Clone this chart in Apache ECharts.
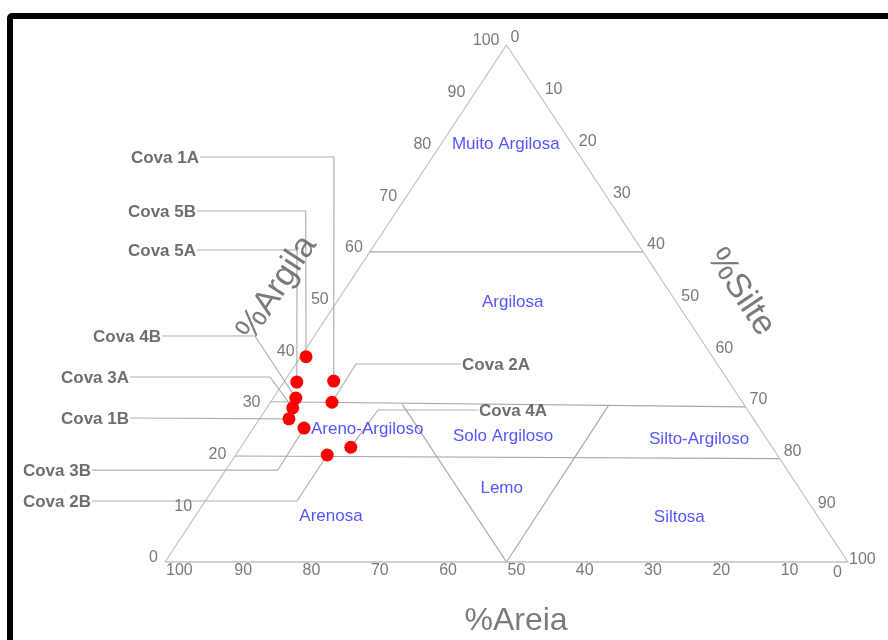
<!DOCTYPE html>
<html><head><meta charset="utf-8">
<script src="https://cdn.jsdelivr.net/npm/echarts@6/dist/echarts.min.js"></script>
<style>html,body{margin:0;padding:0;background:#fff}#c{width:888px;height:640px}</style>
</head><body><div id="c"></div>
<script>
// ---- data (percentages: sand / silt / clay) ----
const samples = ['Cova 1A','Cova 5B','Cova 5A','Cova 4B','Cova 2A','Cova 3A','Cova 1B','Cova 3B','Cova 4A','Cova 2B'];
const areia  = [57.8, 59.5, 63.3, 65.0, 60.1, 66.4, 68.0, 66.7, 61.7, 65.9];
const silte  = [ 7.2,  0.8,  1.9,  3.3,  9.0,  3.8,  4.3,  7.4, 16.1, 13.4];
const argila = [35.0, 39.7, 34.8, 31.7, 30.9, 29.8, 27.7, 25.9, 22.2, 20.7];
const tickValues = [0,10,20,30,40,50,60,70,80,90,100];
const classNames = ['Muito Argilosa','Argilosa','Areno-Argiloso','Solo Argiloso','Silto-Argiloso','Lemo','Arenosa','Siltosa'];
// class boundaries as [sand, silt, clay] end points
const boundaries = [
  [[40,0,60],[0,40,60]],
  [[69,0,31],[0,70,30]],
  [[79.5,0,20.5],[0,80,20]],
  [[50,19.5,30.5],[50,50,0]],
  [[20,49.8,30.2],[50,50,0]]
];

// ---- layout (plot units: x = silt + clay/2, y = clay) ----
const classLabelPos = [[49.9,80.7],[50.9,50.3],[29.6,25.7],[49.5,24.4],[78.2,23.8],[49.3,14.3],[24.3,8.9],[75.3,8.7]];
// leader: label anchor, elbow
const leaderLayout = {
  'Cova 1A': {side:'left',  start:[5.12,78.34],  elbow:[24.74,78.34]},
  'Cova 5B': {side:'left',  start:[4.69,67.89],  elbow:[20.6,67.89]},
  'Cova 5A': {side:'left',  start:[4.69,60.35],  elbow:[19.33,60.35]},
  'Cova 4B': {side:'left',  start:[-0.44,43.71], elbow:[13.18,43.71]},
  'Cova 2A': {side:'right', start:[43.34,38.3],  elbow:[27.96,38.3]},
  'Cova 3A': {side:'left',  start:[-5.12,35.78], elbow:[15.37,35.78]},
  'Cova 1B': {side:'left',  start:[-5.12,27.85], elbow:null},
  'Cova 3B': {side:'left',  start:[-10.69,17.79],elbow:[16.54,17.79]},
  'Cova 4A': {side:'right', start:[45.83,29.4],  elbow:[31.19,29.4]},
  'Cova 2B': {side:'left',  start:[-10.69,11.8], elbow:[19.33,11.8]}
};

const FONT = "'Liberation Sans', Arial, sans-serif";
const toXY = (sand, silt, clay) => [silt + clay / 2, clay];

const series = [];
// triangle
series.push({type:'line', data:[toXY(100,0,0), toXY(0,100,0), toXY(0,0,100), toXY(100,0,0)],
  symbol:'none', clip:false, silent:true, lineStyle:{color:'#c2c2c2', width:1.3}, z:1});
// boundaries
boundaries.forEach(b => series.push({type:'line', data:b.map(p => toXY(p[0],p[1],p[2])),
  symbol:'none', clip:false, silent:true, lineStyle:{color:'#a8a8a8', width:1.2}, z:1}));
// leaders
samples.forEach((s,i) => {
  const L = leaderLayout[s];
  const pt = toXY(areia[i], silte[i], argila[i]);
  const d = [L.start];
  if (L.elbow) d.push(L.elbow);
  d.push(pt);
  series.push({type:'line', data:d, symbol:'none', clip:false, silent:true,
    lineStyle:{color:'#b0b0b0', width:1.2}, z:2});
});
// points
series.push({type:'scatter', data:samples.map((s,i)=>toXY(areia[i],silte[i],argila[i])),
  symbolSize:13, itemStyle:{color:'#ff0000', opacity:1}, clip:false, z:5});
// sample labels
series.push({type:'scatter', symbolSize:0, clip:false, silent:true, z:6,
  data: samples.map(s => ({value: leaderLayout[s].start, name: s,
    label:{show:true, position: leaderLayout[s].side, distance:1, offset:[0,1.5], formatter: s,
      color:'#4a4a4a', fontWeight:'bold', fontSize:17, fontFamily:FONT}}))});
// class labels
series.push({type:'scatter', symbolSize:0, clip:false, silent:true, z:6,
  data: classNames.map((n,i)=>({value: classLabelPos[i], label:{show:true, position:'inside', formatter:n,
    color:'#2b2bff', fontSize:17, fontFamily:FONT, align:'center', verticalAlign:'middle'}}))});
// tick labels: argila (left edge)
series.push({type:'scatter', symbolSize:0, clip:false, silent:true, z:6,
  data: tickValues.map(v => ({value: toXY(100-v, 0, v), label:{show:true, position:'inside', formatter:String(v),
    color:'#585858', fontSize:16, fontFamily:FONT, align:'right', verticalAlign:'middle', offset:[-7,-4]}}))});
// silte (right edge)
series.push({type:'scatter', symbolSize:0, clip:false, silent:true, z:6,
  data: tickValues.map(v => ({value: toXY(0, v, 100-v), label:{show:true, position:'inside', formatter:String(v),
    color:'#585858', fontSize:16, fontFamily:FONT, align:'left', verticalAlign:'middle', offset: v===100?[1,-2]:[4,-7]}}))});
// areia (bottom)
series.push({type:'scatter', symbolSize:0, clip:false, silent:true, z:6,
  data: tickValues.map(v => ({value: toXY(v, 100-v, 0), label:{show:true, position:'inside', formatter:String(v),
    color:'#585858', fontSize:16, fontFamily:FONT, align: v===0?'right':'left', verticalAlign:'middle', offset: v===0?[-6,11]:[1,9]}}))});
// axis titles
const titles = [
  {t:'%Argila', pos:[16.4,53.0], rot:56.6, size:34},
  {t:'%Silte',  pos:[84.3,52.2], rot:-56.6, size:34},
  {t:'%Areia',  pos:[51.4,-11.4], rot:0, size:32}
];
series.push({type:'scatter', symbolSize:0, clip:false, silent:true, z:6,
  data: titles.map(o => ({value:o.pos, label:{show:true, position:'inside', formatter:o.t, rotate:o.rot,
    color:'#5a5a5a', fontSize:o.size, fontFamily:FONT, align:'center', verticalAlign:'middle'}}))});

const chart = echarts.init(document.getElementById('c'), null, {renderer:'canvas'});
chart.setOption({
  animation:false,
  backgroundColor:'#ffffff',
  grid:{left:28.4, right:40, top:45, bottom:78, containLabel:false},
  xAxis:{type:'value', min:-20, max:100, show:false},
  yAxis:{type:'value', min:0, max:100, show:false},
  graphic:[
    {type:'rect', z:-1, shape:{x:10, y:16, width:1000, height:1000, r:2}, style:{fill:'none', stroke:'#000', lineWidth:6}}
  ],
  series: series
});
</script></body></html>
